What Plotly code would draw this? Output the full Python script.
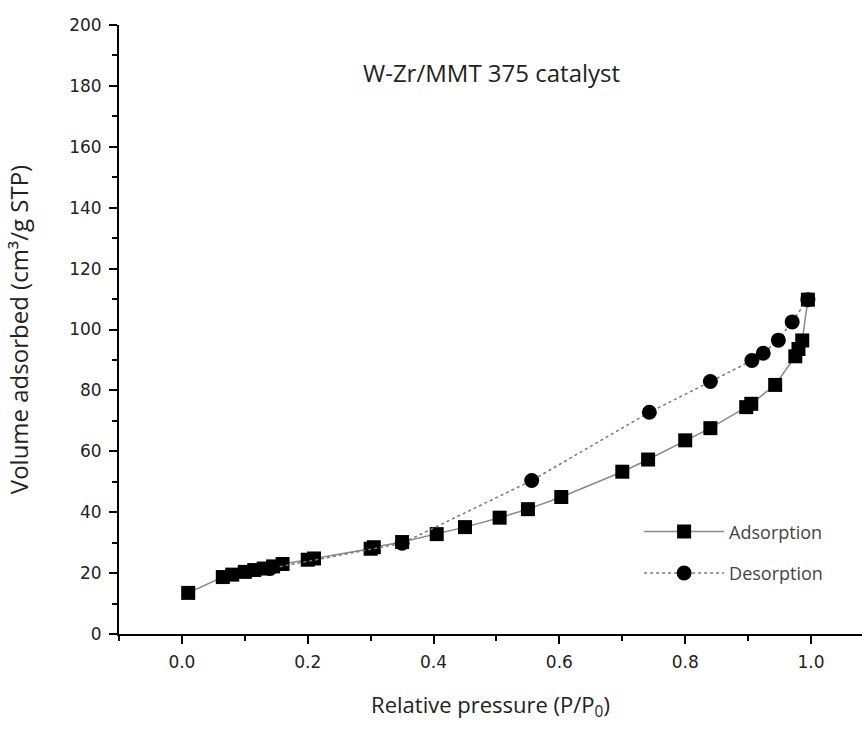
import plotly.graph_objects as go

# Adsorption branch
ads_x = [0.01, 0.065, 0.08, 0.10, 0.115, 0.13, 0.145, 0.16, 0.20, 0.21,
         0.30, 0.305, 0.35, 0.405, 0.45, 0.505, 0.55, 0.603, 0.70, 0.741,
         0.80, 0.84, 0.897, 0.905, 0.943, 0.975, 0.98, 0.986, 0.995]
ads_y = [13.5, 18.7, 19.5, 20.4, 21.0, 21.5, 22.2, 23.0, 24.4, 24.8,
         28.0, 28.5, 30.2, 32.8, 35.1, 38.2, 41.0, 45.0, 53.3, 57.3,
         63.6, 67.6, 74.5, 75.6, 81.8, 91.2, 93.6, 96.4, 109.8]

# Desorption branch
des_x = [0.995, 0.97, 0.948, 0.924, 0.906, 0.84, 0.743, 0.556, 0.35, 0.14]
des_y = [109.8, 102.5, 96.5, 92.2, 89.8, 82.9, 72.8, 50.4, 29.8, 21.5]

x_ticks = [0.0, 0.2, 0.4, 0.6, 0.8, 1.0]
x_tick_text = ["0.0", "0.2", "0.4", "0.6", "0.8", "1.0"]
y_ticks = [0, 20, 40, 60, 80, 100, 120, 140, 160, 180, 200]

FONT = "Open Sans"
TICKFONT = "DejaVu Sans"

fig = go.Figure()
fig.add_trace(go.Scatter(
    x=ads_x, y=ads_y, name="Adsorption", mode="lines+markers", legendgroup="a",
    line=dict(color="#8a8a8a", width=1.5),
    marker=dict(symbol="square", size=14, color="black"),
))
fig.add_trace(go.Scatter(
    x=des_x, y=des_y, name="Desorption", mode="lines+markers", legendgroup="b",
    line=dict(color="#777777", width=1.5, dash="dot"),
    marker=dict(symbol="circle", size=15, color="black"),
))

fig.update_layout(
    width=862, height=742,
    margin=dict(l=119, r=0, t=25, b=108),
    plot_bgcolor="white", paper_bgcolor="white",
    font=dict(family=FONT, color="#222"),
    legend=dict(x=0.70, y=0.198, xanchor="left", yanchor="top",
                bgcolor="rgba(0,0,0,0)", font=dict(size=18, color="#444", family=FONT),
                itemwidth=80, tracegroupgap=15),
    annotations=[dict(text="W-Zr/MMT 375 catalyst", x=0.502, y=(634 - 72) / 609,
                      xref="paper", yref="paper", showarrow=False,
                      xanchor="center", yanchor="middle",
                      font=dict(size=24, color="#222", family=FONT))],
)
fig.update_xaxes(
    range=[-0.1, 1.081], tickvals=x_ticks, ticktext=x_tick_text,
    showline=True, linecolor="black", linewidth=2, mirror=False,
    ticks="outside", ticklen=8, tickwidth=2, tickcolor="black",
    minor=dict(dtick=0.1, tick0=0, ticks="outside", ticklen=5, tickwidth=2, tickcolor="black"),
    showgrid=False, zeroline=False, ticklabelstandoff=4,
    tickfont=dict(size=17, color="#222", family=TICKFONT),
    title=dict(text="Relative pressure (P/P<sub>0</sub>)", font=dict(size=22, color="#222"), standoff=26),
)
fig.update_yaxes(
    range=[0, 200], tickvals=y_ticks,
    showline=True, linecolor="black", linewidth=2,
    ticks="outside", ticklen=8, tickwidth=2, tickcolor="black",
    minor=dict(dtick=10, tick0=0, ticks="outside", ticklen=5, tickwidth=2, tickcolor="black"),
    showgrid=False, zeroline=False, ticklabelstandoff=4,
    tickfont=dict(size=17, color="#222", family=TICKFONT),
    title=dict(text="Volume adsorbed (cm³/g STP)", font=dict(size=24, color="#222"), standoff=34),
)

fig.write_html("out.html")
